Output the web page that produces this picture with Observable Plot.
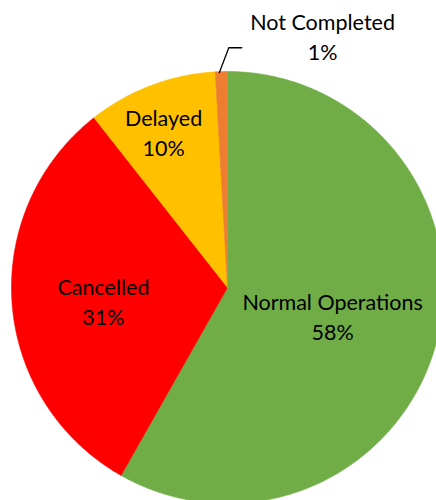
<!DOCTYPE html>
<html><head><meta charset="utf-8">
<script src="https://cdn.jsdelivr.net/npm/d3@7"></script>
<script src="https://cdn.jsdelivr.net/npm/@observablehq/plot@0.6"></script>
<style>body{margin:0;overflow:hidden;background:#fff}</style>
</head><body><div id="chart"></div>
<script>
const categories = ["Normal Operations", "Cancelled", "Delayed", "Not Completed"];
const values = [58.2, 31.2, 9.7, 0.9];
const percentLabels = ["58%", "31%", "10%", "1%"];
const colors = ["#70AD47", "#FF0000", "#FFC000", "#ED7D31"];

const W = 436, H = 500, cx = 227, cy = 287, R = 216;
const labelRadius = [0.507, 0.579, 0.767, null];
const labelAngleShift = [1.6, -3, -2, 0];
const total = d3.sum(values);
let acc = 0;
const slices = categories.map((c, i) => {
  const a0 = acc / total * 2 * Math.PI; acc += values[i];
  const a1 = acc / total * 2 * Math.PI;
  return {c, a0, a1, mid: (a0 + a1) / 2, color: colors[i], label: c + "\n" + percentLabels[i], i};
});
function pts(s) {
  const out = [{x: 0, y: 0}];
  const n = Math.max(2, Math.ceil((s.a1 - s.a0) / (Math.PI / 360)));
  for (let k = 0; k <= n; k++) {
    const a = s.a0 + (s.a1 - s.a0) * k / n;
    out.push({x: Math.sin(a), y: Math.cos(a)});
  }
  out.push({x: 0, y: 0});
  return out;
}
const inside = slices.filter(s => labelRadius[s.i] != null).map(s => {
  const a = s.mid + labelAngleShift[s.i] * Math.PI / 180;
  return {x: Math.sin(a) * labelRadius[s.i], y: Math.cos(a) * labelRadius[s.i], label: s.label};
});
const small = slices[3];
const outside = [{x: 0.44, y: 1.165, label: small.label}];
const leader = [
  {x: Math.sin(small.mid) * 0.995 - 0.01, y: Math.cos(small.mid) * 0.995},
  {x: 0.006, y: 1.11},
  {x: 0.066, y: 1.11}
];
const font = "Lato, 'Open Sans', sans-serif";
const fs = 21.5;
const chart = Plot.plot({
  width: W, height: H,
  margin: 0,
  x: {domain: [-1, 1], range: [cx - R, cx + R], axis: null},
  y: {domain: [-1, 1], range: [cy + R, cy - R], axis: null},
  style: {fontFamily: font, background: "#fff"},
  marks: [
    ...slices.map(s => Plot.line(pts(s), {x: "x", y: "y", fill: s.color, stroke: s.color, strokeWidth: 0.6, curve: "linear"})),
    Plot.line(leader, {x: "x", y: "y", stroke: "#000", strokeWidth: 1.3}),
    Plot.text(inside, {x: "x", y: "y", dy: -3, text: "label", fontSize: fs, lineHeight: 30 / fs, fill: "#000", fontFamily: font}),
    Plot.text(outside, {x: "x", y: "y", text: "label", fontSize: fs, lineHeight: 30 / fs, fill: "#000", fontFamily: font})
  ]
});
document.getElementById("chart").append(chart);
</script>
</body></html>
